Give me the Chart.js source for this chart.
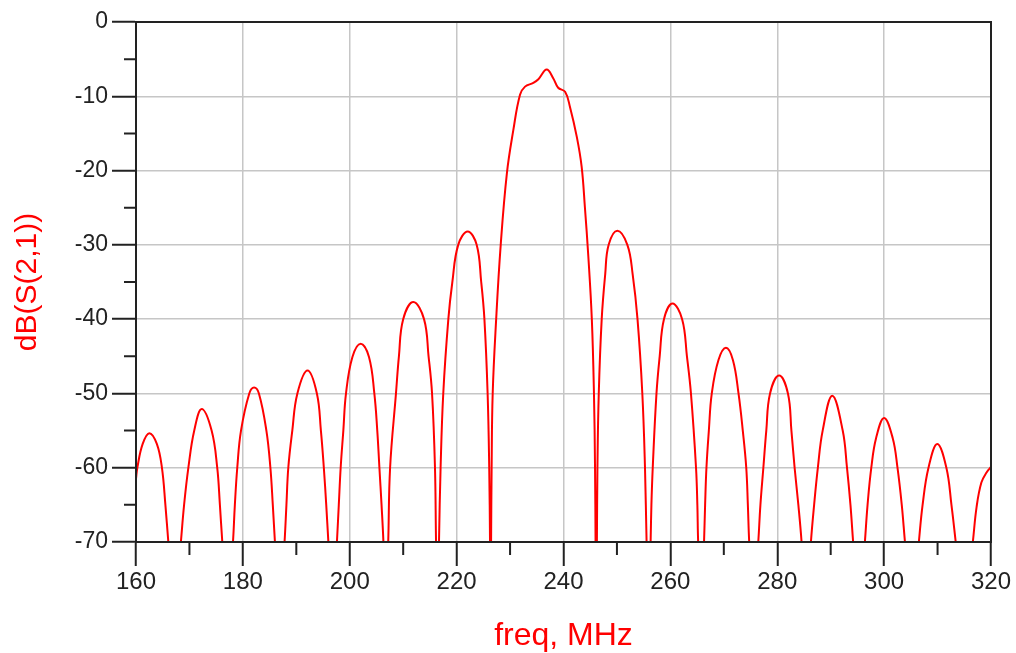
<!DOCTYPE html>
<html>
<head>
<meta charset="utf-8">
<script src="https://cdn.jsdelivr.net/npm/chart.js@4.4.1/dist/chart.umd.min.js"></script>
<style>
    html, body { margin: 0; padding: 0; background: #fff; }
    #wrap { width: 1016px; height: 653px; }
</style>
</head>
<body>
<div id="wrap"><canvas id="s21Chart" width="1016" height="653"></canvas></div>
<script>
// frequency points (MHz), one line per lobe;
// the last point of a line is the null between lobes, below the -70 dB floor
const freqMHz = [
    160.0, 160.25, 161.25, 162.5, 163.9, 164.85, 165.5, 166.05, 167.2,
    168.4, 169.0, 169.8, 170.9, 172.3, 174.15, 175.2, 175.7, 176.15, 177.2,
    178.15, 178.5, 178.95, 179.65, 181.2, 182.1, 183.0, 184.4, 185.15, 185.6, 186.0, 186.9,
    187.8, 188.15, 188.5, 189.25, 190.2, 192.1, 193.85, 194.6, 195.15, 195.6, 196.0, 196.85,
    197.6, 197.95, 198.3, 198.8, 199.3, 200.5, 202.05, 203.6, 204.6, 205.15, 205.55, 205.95, 206.3, 206.75,
    207.2, 207.55, 208.65, 209.2, 210.0, 211.9, 213.9, 214.75, 215.4, 215.95, 216.15, 216.45,
    216.7, 217.0, 217.5, 218.45, 219.2, 220.3, 222.07, 223.75, 224.6, 225.2, 225.8, 226.1, 226.25, 226.35,
    226.45, 226.55, 226.75, 227.4, 228.25, 229.4, 230.6, 231.86, 232.8, 234.35, 235.3, 236.85,
    238.1, 239.0, 240.3, 241.2, 242.5, 243.4, 244.0, 244.65, 245.3, 245.7, 245.9, 246.0, 246.1,
    246.25, 246.35, 246.6, 247.15, 247.8, 248.45, 250.07, 251.95, 252.95, 253.85, 254.75, 255.25, 255.55, 255.95,
    256.3, 256.45, 256.7, 257.4, 258.0, 258.8, 260.4, 262.2, 263.1, 263.85, 264.8, 265.05, 265.2, 265.8,
    266.3, 266.5, 266.75, 267.2, 267.75, 269.0, 270.4, 271.7, 272.75, 273.55, 274.2, 274.5, 274.75, 275.5,
    276.45, 276.85, 277.4, 277.95, 278.65, 280.35, 282.0, 282.65, 283.25, 283.95, 284.55, 285.4,
    286.3, 286.9, 287.6, 288.5, 290.3, 292.25, 293.05, 293.7, 294.2, 295.3,
    296.4, 296.9, 297.6, 298.5, 300.0, 301.6, 302.5, 303.3, 303.9, 305.2,
    306.5, 307.2, 308.3, 309.95, 311.65, 312.6, 313.4, 315.0,
    316.6, 317.3, 318.2, 319.2, 320.0
];

const s21dB = [
    -61.5, -60, -56.8, -55.35, -56.8, -60, -65, -70, -80,
    -70, -65, -60, -55, -52.1, -55, -60, -65, -70, -80,
    -70, -65, -60, -55, -50, -49.2, -50, -55, -60, -65, -70, -80,
    -70, -65, -60, -55, -50, -46.9, -50, -55, -60, -65, -70, -80,
    -70, -65, -60, -55, -50, -45.1, -43.3, -45.1, -50, -55, -60, -65, -70, -80,
    -70, -60, -50, -45, -40, -37.7, -40, -45, -50, -60, -70, -80,
    -70, -60, -50, -40, -35, -30, -28.2, -30, -35, -40, -50, -60, -70, -80,
    -70, -60, -50, -40, -30, -20.4, -14.6, -9.8, -8.7, -8.2, -7.7, -6.4,
    -7.6, -8.85, -9.4, -11.4, -15.5, -19.5, -24.9, -31.6, -40, -50, -60, -70, -80,
    -70, -60, -50, -40, -34, -30, -28.1, -30, -34, -40, -50, -60, -70, -80,
    -70, -65, -60, -50, -45, -40, -37.9, -40, -45, -50, -60, -65, -70, -80,
    -70, -65, -60, -55, -50, -45.5, -43.85, -45.5, -50, -55, -60, -65, -70, -80,
    -70, -65, -60, -55, -50, -47.6, -50, -55, -60, -65, -70, -80,
    -70, -65, -60, -55, -50.3, -55, -60, -65, -70, -80,
    -70, -65, -60, -56, -53.3, -56, -60, -65, -70, -80,
    -70, -65, -60, -56.8, -60, -65, -70, -80,
    -70, -65.3, -62.0, -60.6, -59.9
];

const xRange = [160, 320];
const yRange = [-70, 0];
const xLabelStep = 20;
const yLabelStep = 10;

const axisColor = '#222';
const gridColor = '#c6c6c6';
const traceColor = '#ff0000';
const fontFamily = 'Liberation Sans, Arial, sans-serif';

const points = freqMHz.map((f, i) => ({ x: f, y: s21dB[i] }));

// box round the plot plus the short minor tick marks
const framePlugin = {
    id: 'frame',
    afterDraw(chart) {
        const { ctx, chartArea: a, scales } = chart;
        ctx.save();
        ctx.strokeStyle = axisColor;
        ctx.lineWidth = 2;
        ctx.strokeRect(a.left, a.top, a.right - a.left, a.bottom - a.top);

        ctx.beginPath();
        scales.x.ticks.forEach(t => {
            if (t.value % xLabelStep !== 0) {
                const px = scales.x.getPixelForValue(t.value);
                ctx.moveTo(px, a.bottom);
                ctx.lineTo(px, a.bottom + 13);
            }
        });
        scales.y.ticks.forEach(t => {
            if (t.value % yLabelStep !== 0) {
                const py = scales.y.getPixelForValue(t.value);
                ctx.moveTo(a.left, py);
                ctx.lineTo(a.left - 12, py);
            }
        });
        ctx.stroke();
        ctx.restore();
    }
};

const isMajor = (c, step) => c.tick && c.tick.value % step === 0;

new Chart(document.getElementById('s21Chart'), {
    type: 'line',
    data: {
        datasets: [{
            label: 'dB(S(2,1))',
            data: points,
            borderColor: traceColor,
            borderWidth: 2,
            pointRadius: 0,
            fill: false,
            tension: 0.4,
            clip: 0
        }]
    },
    options: {
        responsive: false,
        animation: false,
        elements: { line: { capBezierPoints: false } },
        layout: { padding: { top: 22, right: 25, left: 0, bottom: 0 } },
        plugins: {
            legend: { display: false },
            tooltip: { enabled: false }
        },
        scales: {
            x: {
                type: 'linear',
                min: xRange[0],
                max: xRange[1],
                afterFit: scale => { scale.height = 111; },
                ticks: {
                    stepSize: 10,
                    autoSkip: false,
                    maxRotation: 0,
                    padding: 2,
                    color: axisColor,
                    font: { family: fontFamily, size: 24 },
                    callback: v => (v % xLabelStep === 0 ? String(v) : '')
                },
                grid: {
                    color: c => (isMajor(c, xLabelStep) ? gridColor : 'transparent'),
                    lineWidth: 1.5,
                    tickLength: 24,
                    tickWidth: 2,
                    tickColor: c => (isMajor(c, xLabelStep) ? axisColor : 'transparent')
                },
                border: { color: axisColor, width: 2 },
                title: {
                    display: true,
                    text: 'freq, MHz',
                    color: traceColor,
                    font: { family: fontFamily, size: 32, lineHeight: 1 },
                    padding: { top: 0, bottom: 1 }
                }
            },
            y: {
                type: 'linear',
                min: yRange[0],
                max: yRange[1],
                afterFit: scale => { scale.width = 136; },
                ticks: {
                    stepSize: 5,
                    autoSkip: false,
                    padding: 4,
                    color: axisColor,
                    font: { family: fontFamily, size: 23 },
                    callback: v => (v % yLabelStep === 0 ? String(v) : '')
                },
                grid: {
                    color: c => (isMajor(c, yLabelStep) ? gridColor : 'transparent'),
                    lineWidth: 1.5,
                    tickLength: 24,
                    tickWidth: 2,
                    tickColor: c => (isMajor(c, yLabelStep) ? axisColor : 'transparent')
                },
                border: { color: axisColor, width: 2 },
                title: {
                    display: true,
                    text: 'dB(S(2,1))',
                    color: traceColor,
                    font: { family: fontFamily, size: 30, lineHeight: 1 },
                    padding: { top: 13, bottom: 0 }
                }
            }
        }
    },
    plugins: [framePlugin]
});
</script>
</body>
</html>
